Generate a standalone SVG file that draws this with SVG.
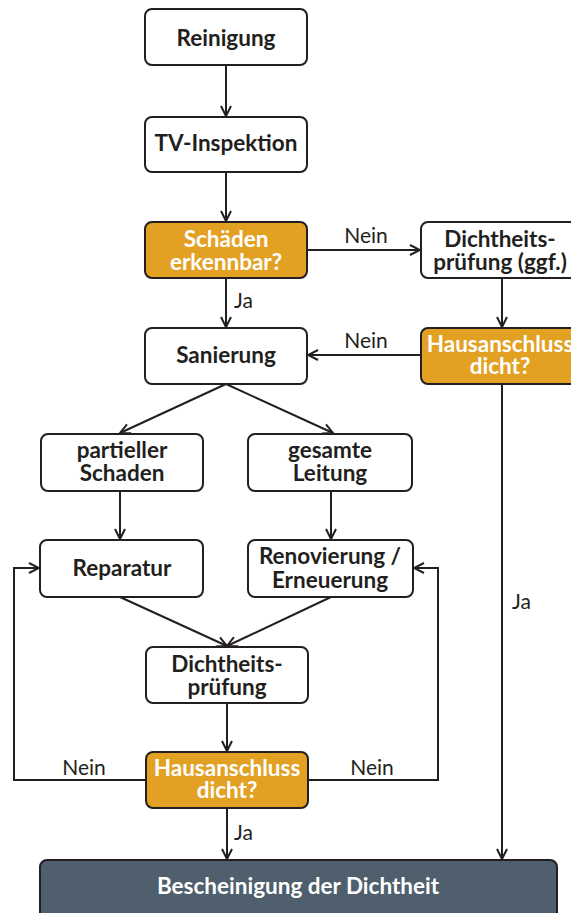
<svg xmlns="http://www.w3.org/2000/svg" width="571" height="913" viewBox="0 0 571 913">
<style>
.box{fill:#fff;stroke:#231f20;stroke-width:2}
.dec{fill:#e3a124;stroke:#231f20;stroke-width:2}
.end{fill:#4f5f6e;stroke:#231f20;stroke-width:2}
.t{font-family:Lato,"Open Sans",sans-serif;font-weight:bold;font-size:22.5px;fill:#231f20;text-anchor:middle}
.tw{fill:#fff}
.lbl{font-family:Lato,"Open Sans",sans-serif;font-size:21px;fill:#231f20}
.c{fill:none;stroke:#231f20;stroke-width:2;marker-end:url(#a)}
</style>
<defs>
<marker id="a" viewBox="0 0 12 12" refX="11" refY="6" markerWidth="12" markerHeight="12" markerUnits="userSpaceOnUse" orient="auto">
<path d="M1,1 L11,6 L1,11" fill="none" stroke="#231f20" stroke-width="2"/>
</marker>
</defs>
<rect width="571" height="913" fill="#fff"/>
<g id="connectors">
<path class="c" d="M226,65 V116"/>
<path class="c" d="M226,172 V221"/>
<path class="c" d="M307,250 H420"/>
<path class="c" d="M502,278 V327"/>
<path class="c" d="M421,355 H308"/>
<path class="c" d="M226,278 V327"/>
<path class="c" d="M226,384 L120,433"/>
<path class="c" d="M226,384 L333,433"/>
<path class="c" d="M120,491 V539"/>
<path class="c" d="M331,491 V539"/>
<path class="c" d="M120,597 L227,646"/>
<path class="c" d="M331,597 L227,646"/>
<path class="c" d="M227,703 V751"/>
<path class="c" d="M146,780 H14 V568 H39"/>
<path class="c" d="M308,780 H438 V568 H414"/>
<path class="c" d="M227,808 V859"/>
<path class="c" d="M502,384 V859"/>
<text class="lbl" x="366" y="243" text-anchor="middle">Nein</text>
<text class="lbl" x="366" y="348" text-anchor="middle">Nein</text>
<text class="lbl" x="234" y="308">Ja</text>
<text class="lbl" x="512" y="609">Ja</text>
<text class="lbl" x="84" y="775" text-anchor="middle">Nein</text>
<text class="lbl" x="372" y="775" text-anchor="middle">Nein</text>
<text class="lbl" x="234" y="840">Ja</text>
</g>
<g id="reinigung"><rect class="box" x="145" y="9" width="162" height="56" rx="7"/><text class="t" x="226" y="46">Reinigung</text></g>
<g id="tv"><rect class="box" x="145" y="117" width="162" height="55" rx="7"/><text class="t" x="226" y="151">TV-Inspektion</text></g>
<g id="schaeden"><rect class="dec" x="145" y="222" width="162" height="56" rx="7"/><text class="t tw" x="226" y="247">Schäden</text><text class="t tw" x="226" y="270">erkennbar?</text></g>
<g id="dichtheit-ggf"><rect class="box" x="421" y="222" width="156" height="56" rx="7"/><text class="t" x="500" y="247">Dichtheits-</text><text class="t" x="500" y="270">prüfung (ggf.)</text></g>
<g id="hausanschluss-oben"><rect class="dec" x="421" y="328" width="156" height="56" rx="7"/><text class="t tw" x="500" y="352">Hausanschluss</text><text class="t tw" x="500" y="374">dicht?</text></g>
<g id="sanierung"><rect class="box" x="145" y="328" width="162" height="56" rx="7"/><text class="t" x="226" y="363">Sanierung</text></g>
<g id="partiell"><rect class="box" x="41" y="434" width="162" height="57" rx="7"/><text class="t" x="122" y="458">partieller</text><text class="t" x="122" y="481">Schaden</text></g>
<g id="gesamt"><rect class="box" x="248" y="434" width="164" height="57" rx="7"/><text class="t" x="330" y="458">gesamte</text><text class="t" x="330" y="481">Leitung</text></g>
<g id="reparatur"><rect class="box" x="40" y="540" width="163" height="57" rx="7"/><text class="t" x="122" y="576">Reparatur</text></g>
<g id="renovierung"><rect class="box" x="248" y="540" width="165" height="57" rx="7"/><text class="t" x="330" y="564">Renovierung /</text><text class="t" x="330" y="588">Erneuerung</text></g>
<g id="dichtheit"><rect class="box" x="146" y="647" width="162" height="56" rx="7"/><text class="t" x="227" y="672">Dichtheits-</text><text class="t" x="227" y="695">prüfung</text></g>
<g id="hausanschluss-unten"><rect class="dec" x="146" y="752" width="162" height="56" rx="7"/><text class="t tw" x="227" y="776">Hausanschluss</text><text class="t tw" x="227" y="798">dicht?</text></g>
<g id="bescheinigung"><rect class="end" x="40" y="860" width="517" height="60" rx="7"/><text class="t tw" x="298" y="894">Bescheinigung der Dichtheit</text></g>
</svg>
